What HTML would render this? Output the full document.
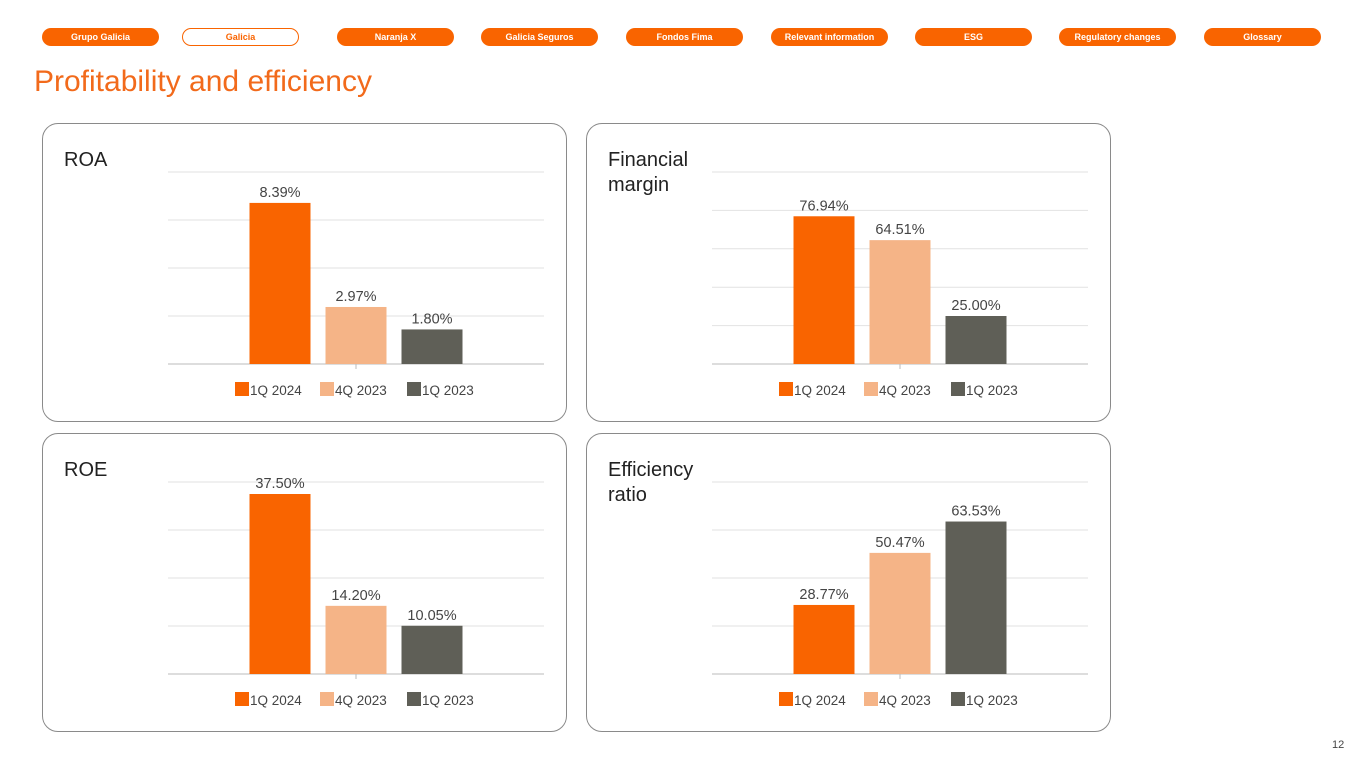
<!DOCTYPE html>
<html><head><meta charset="utf-8">
<style>
body{margin:0;width:1365px;height:768px;background:#fff;font-family:"Liberation Sans",sans-serif;position:relative;overflow:hidden}
.pill{position:absolute;top:28px;height:18px;width:117px;border-radius:9px;background:#f96400;color:#fff;font-size:9px;font-weight:bold;text-align:center;line-height:18px;box-sizing:border-box}
.pill.out{background:#fff;border:1.5px solid #f96400;color:#f96400;line-height:16px}
h1{position:absolute;left:34px;top:65px;margin:0;font-weight:normal;font-size:30px;color:#f26a1b}
.panel{position:absolute;width:525px;height:299px;border:1px solid #8a8a8a;border-radius:16px;box-sizing:border-box}
svg{position:absolute;left:0;top:0}
</style></head><body>
<div>
<div class="pill" style="left:42px">Grupo Galicia</div>
<div class="pill out" style="left:182px">Galicia</div>
<div class="pill" style="left:337px">Naranja X</div>
<div class="pill" style="left:481px">Galicia Seguros</div>
<div class="pill" style="left:626px">Fondos Fima</div>
<div class="pill" style="left:771px">Relevant information</div>
<div class="pill" style="left:915px">ESG</div>
<div class="pill" style="left:1059px">Regulatory changes</div>
<div class="pill" style="left:1204px">Glossary</div>
</div>
<h1>Profitability and efficiency</h1>
<div class="panel" style="left:42px;top:123px"></div>
<div class="panel" style="left:586px;top:123px"></div>
<div class="panel" style="left:42px;top:433px"></div>
<div class="panel" style="left:586px;top:433px"></div>
<div style="position:absolute;left:1332px;top:739px;font-size:11px;color:#444">12</div>
<svg id="s" width="1365" height="768"></svg>
<script>
const categories=["1Q 2024","4Q 2023","1Q 2023"];
const colors=["#f96400","#f5b487","#5f5f57"];
const roaValues=[8.39,2.97,1.80];
const fmValues=[76.94,64.51,25.00];
const roeValues=[37.50,14.20,10.05];
const effValues=[28.77,50.47,63.53];
const charts=[
 {name:"roa",title:["ROA"],values:roaValues,max:10,step:2.5,ox:0,oy:0},
 {name:"financial-margin",title:["Financial","margin"],values:fmValues,max:100,step:20,ox:544,oy:0},
 {name:"roe",title:["ROE"],values:roeValues,max:40,step:10,ox:0,oy:310},
 {name:"efficiency-ratio",title:["Efficiency","ratio"],values:effValues,max:80,step:20,ox:544,oy:310}
];
const NS="http://www.w3.org/2000/svg";
const svg=document.getElementById('s');
function mk(t,a,txt){const e=document.createElementNS(NS,t);for(const k in a)e.setAttribute(k,a[k]);if(txt!=null)e.textContent=txt;svg.appendChild(e);return e;}
charts.forEach(c=>{
 const x0=168+c.ox,x1=544+c.ox,top=172+c.oy,base=364+c.oy;
 const y=v=>base-(v/c.max)*(base-top);
 c.title.forEach((t,i)=>{const e=mk('text',{x:64+c.ox,y:166+c.oy+i*25,'font-size':20,fill:'#222'},t);
  
  });
 for(let v=0;v<=c.max+1e-9;v+=c.step){const l=mk('line',{x1:x0,x2:x1,y1:y(v),y2:y(v),stroke:v===0?'#bbb':'#e2e2e2','stroke-width':1});
  
  }
 const cx=(x0+x1)/2;
 mk('line',{x1:cx,x2:cx,y1:base,y2:base+5,stroke:'#bbb'});
 const bw=61,gap=15,start=cx-(3*bw+2*gap)/2;
 c.values.forEach((v,i)=>{
  const bx=start+i*(bw+gap);
  const r=mk('rect',{x:bx,y:y(v),width:bw,height:base-y(v),fill:colors[i]});
  
  
  const t=mk('text',{x:bx+bw/2,y:y(v)-6,'font-size':14.5,fill:'#444','text-anchor':'middle'},v.toFixed(2)+'%');
  
  
 });
 const lx=[235,320,407];
 categories.forEach((cat,i)=>{
  const s=mk('rect',{x:lx[i]+c.ox,y:382+c.oy,width:14,height:14,fill:colors[i]});
  
  
  const t=mk('text',{x:lx[i]+15+c.ox,y:395+c.oy,'font-size':13.5,fill:'#444'},cat);
  
  
 });
});
</script>
</body></html>
